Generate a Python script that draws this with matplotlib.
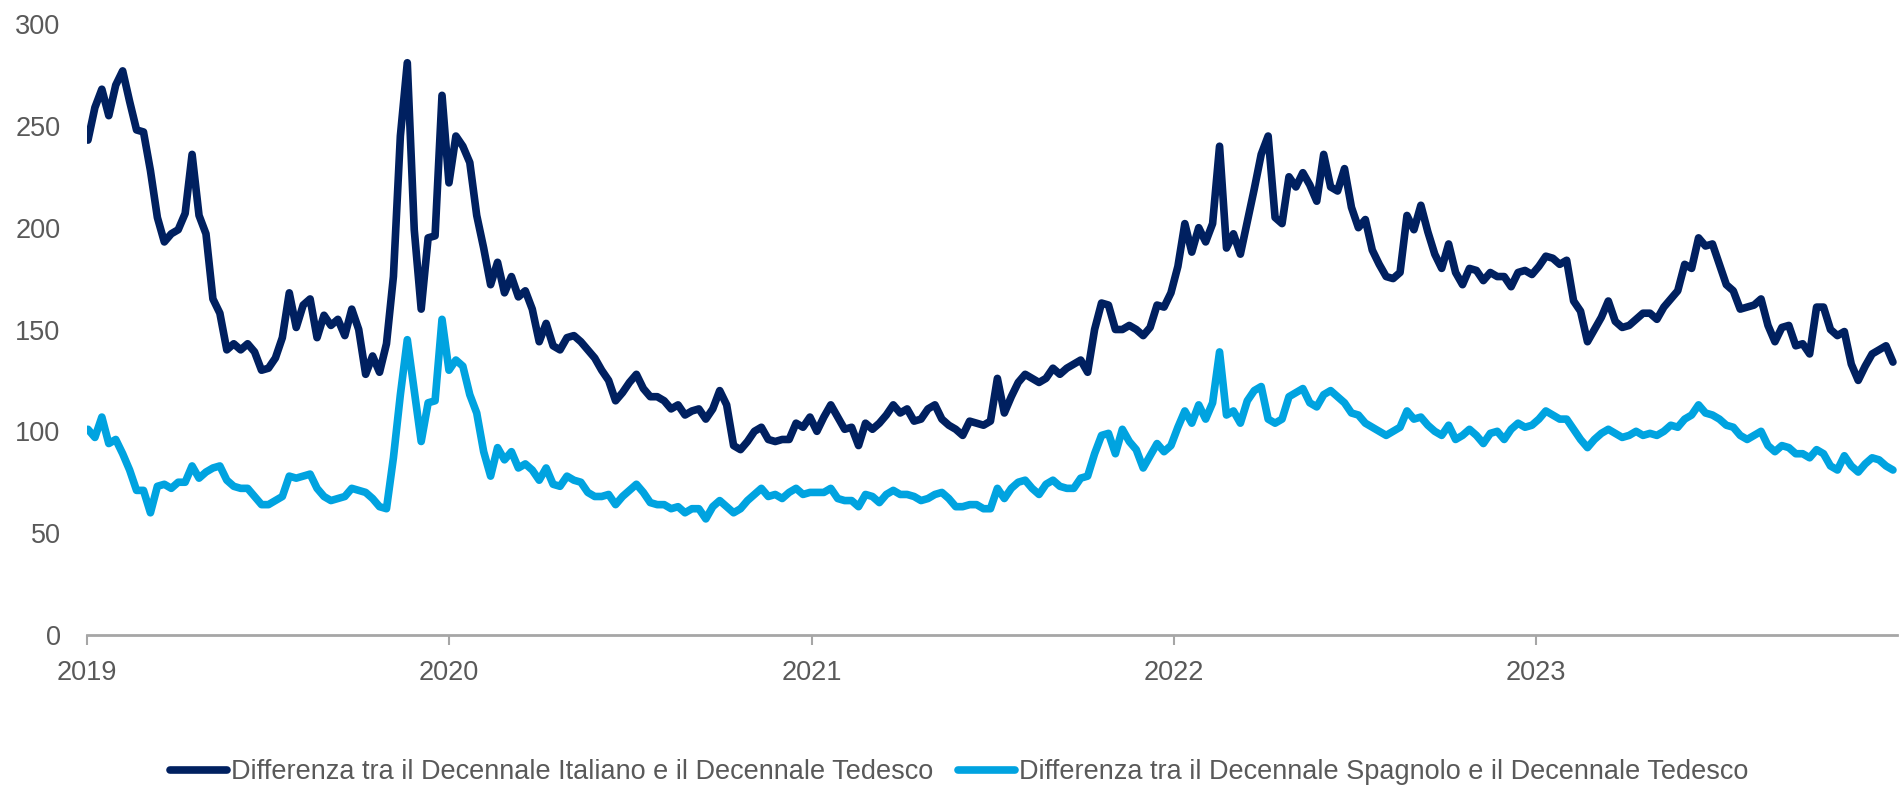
import numpy as np
import pandas as pd
import matplotlib
matplotlib.use("Agg")
import matplotlib.pyplot as plt

# -----------------------------
# Data (weekly readings, bps)
# -----------------------------
dates = pd.date_range("2019-01-02", periods=261, freq="7D")

spread_it = [
    243, 259, 268, 255, 270, 277, 262, 248, 247, 228, 205, 193, 197, 199, 207, 236, 206, 197, 165, 158,
    140, 143, 140, 143, 139, 130, 131, 136, 146, 168, 151, 162, 165, 146, 157, 152, 155, 147, 160, 150,
    128, 137, 129, 143,
    176, 245, 281, 199, 160, 195, 196, 265, 222, 245, 240, 232, 206, 190, 172, 183, 168, 176, 166, 169,
    160, 144, 153, 142, 140, 146, 147, 144, 140, 136, 130, 125, 115, 119, 124, 128, 121, 117, 117, 115,
    111, 113, 108, 110,
    111, 106, 111, 120, 113, 93, 91, 95, 100, 102, 96, 95, 96, 96, 104, 102, 107, 100, 107, 113,
    107, 101, 102, 93, 104, 101, 104, 108, 113, 109, 111, 105, 106, 111, 113, 106, 103, 101, 98, 105,
    104, 103, 105, 126,
    109, 117, 124, 128, 126, 124, 126, 131, 128, 131, 133, 135, 129, 150, 163, 162, 150, 150, 152, 150,
    147, 151, 162, 161, 168, 181, 202, 188, 200, 193, 202, 240, 190, 197, 187, 203, 219, 236, 245, 205,
    202, 225, 220, 227,
    221, 213, 236, 220, 218, 229, 210, 200, 204, 189, 182, 176, 175, 178, 206, 199, 211, 198, 187, 180,
    192, 178, 172, 180, 179, 174, 178, 176, 176, 171, 178, 179, 177, 181, 186, 185, 182, 184, 164, 159,
    144, 150, 156, 164,
    154, 151, 152, 155, 158, 158, 155, 161, 165, 169, 182, 180, 195, 191, 192, 182, 172, 169, 160, 161,
    162, 165, 152, 144, 151, 152, 142, 143, 138, 161, 161, 150, 147, 149, 133, 125, 132, 138, 140, 142,
    134,
]

spread_es = [
    101, 97, 107, 94, 96, 89, 81, 71, 71, 60, 73, 74, 72, 75, 75, 83, 77, 80, 82, 83,
    76, 73, 72, 72, 68, 64, 64, 66, 68, 78, 77, 78, 79, 72, 68, 66, 67, 68, 72, 71,
    70, 67, 63, 62,
    87, 118, 145, 120, 95, 114, 115, 155, 130, 135, 132, 118, 109, 90, 78, 92, 86, 90, 82, 84,
    81, 76, 82, 74, 73, 78, 76, 75, 70, 68, 68, 69, 64, 68, 71, 74, 70, 65, 64, 64,
    62, 63, 60, 62,
    62, 57, 63, 66, 63, 60, 62, 66, 69, 72, 68, 69, 67, 70, 72, 69, 70, 70, 70, 72,
    67, 66, 66, 63, 69, 68, 65, 69, 71, 69, 69, 68, 66, 67, 69, 70, 67, 63, 63, 64,
    64, 62, 62, 72,
    67, 72, 75, 76, 72, 69, 74, 76, 73, 72, 72, 77, 78, 89, 98, 99, 89, 101, 95, 91,
    82, 88, 94, 90, 93, 102, 110, 104, 113, 106, 114, 139, 108, 110, 104, 115, 120, 122, 106, 104,
    106, 117, 119, 121,
    114, 112, 118, 120, 117, 114, 109, 108, 104, 102, 100, 98, 100, 102, 110, 106, 107, 103, 100, 98,
    103, 96, 98, 101, 98, 94, 99, 100, 96, 101, 104, 102, 103, 106, 110, 108, 106, 106, 101, 96,
    92, 96, 99, 101,
    99, 97, 98, 100, 98, 99, 98, 100, 103, 102, 106, 108, 113, 109, 108, 106, 103, 102, 98, 96,
    98, 100, 93, 90, 93, 92, 89, 89, 87, 91, 89, 83, 81, 88, 83, 80, 84, 87, 86, 83,
    81,
]

labels = [
    "Differenza tra il Decennale Italiano e il Decennale Tedesco",
    "Differenza tra il Decennale Spagnolo e il Decennale Tedesco",
]
year_ticks = ["2019", "2020", "2021", "2022", "2023"]
y_ticks = [0, 50, 100, 150, 200, 250, 300]

# -----------------------------
# Plot
# -----------------------------
plt.rcParams["font.family"] = ["Liberation Sans", "DejaVu Sans"]
text_col = "#595959"

fig = plt.figure(figsize=(19.03, 7.88), dpi=100)
ax = fig.add_axes([0.0457, 0.1942, 0.9511, 0.7753])

ax.plot(dates, spread_it, color="#002060", lw=5.5, solid_joinstyle="round",
        solid_capstyle="round", label=labels[0])
ax.plot(dates, spread_es, color="#00A3E0", lw=5.5, solid_joinstyle="round",
        solid_capstyle="round", label=labels[1])

ax.set_ylim(0, 300)
ax.set_xlim(pd.Timestamp("2019-01-01"), pd.Timestamp("2023-12-31"))
ax.set_yticks(y_ticks)
ax.set_xticks([pd.Timestamp(y + "-01-01") for y in year_ticks])
ax.set_xticklabels(year_ticks)

for s in ["top", "right", "left"]:
    ax.spines[s].set_visible(False)
ax.spines["bottom"].set_color("#A6A6A6")
ax.spines["bottom"].set_linewidth(2)

ax.tick_params(axis="x", colors="#A6A6A6", length=7, width=1.5, pad=11,
               labelsize=19.5, labelcolor=text_col)
ax.tick_params(axis="y", length=0, pad=19, labelsize=19.5, labelcolor=text_col)

fig.legend(loc="center", bbox_to_anchor=(0.504, 0.02), ncol=2, frameon=False,
           fontsize=19.5, labelcolor=text_col, handlelength=2.1, handletextpad=0.15,
           columnspacing=0.9)

fig.savefig("out.png", dpi=100)
